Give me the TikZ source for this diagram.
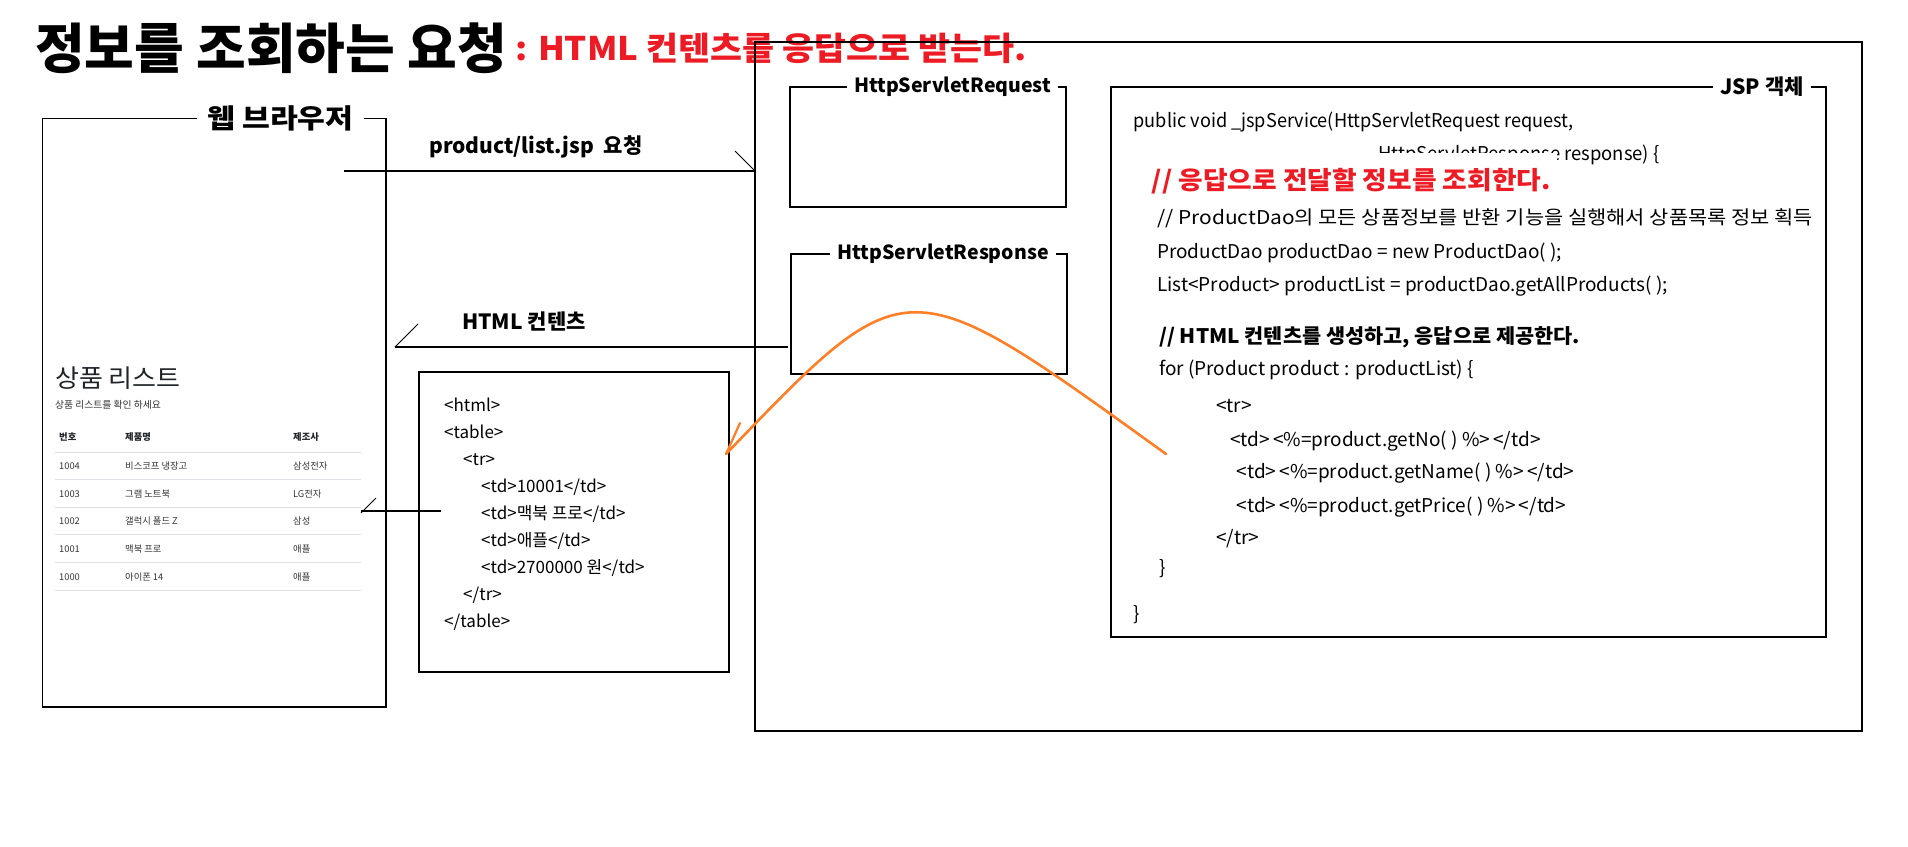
\documentclass[tikz,border=0pt]{standalone}
\usepackage{fontspec}
\usepackage{graphicx}
\setmainfont{Noto Sans CJK KR}
\definecolor{jred}{HTML}{ED1C24}
\definecolor{jorange}{HTML}{FF7F27}
\definecolor{tline}{HTML}{DEE2E6}
\definecolor{pgtext}{HTML}{212529}
\definecolor{pgsub}{HTML}{333333}
\newcommand{\fs}[1]{\fontsize{#1}{#1}\selectfont}
\newcommand{\sx}[2]{\scalebox{#1}[1]{#2}}
\tikzset{
  box/.style={draw, line width=1.3pt, inner sep=0pt, outer sep=0pt, anchor=north west},
  blabel/.style={fill=white, inner xsep=7pt, inner ysep=1pt, font=\bfseries\fs{19.5}},
  t/.style={inner sep=0pt, anchor=base west},
  code/.style={t, font=\fs{19}},
  html/.style={t, font=\fs{17}},
  cell/.style={t, font=\fs{9.3}, text=pgsub},
  hcell/.style={t, font=\bfseries\fs{9.3}, text=pgtext},
  conn/.style={line width=1.2pt},
  barb/.style={line width=0.8pt},
  curve/.style={draw=jorange, line width=2.6pt},
}
\begin{document}
\begin{tikzpicture}[x=1pt,y=-1pt]
\useasboundingbox[fill=white] (0,0) rectangle (1908,846);

% title
\node[t, font=\bfseries\fs{54}] (title) at (35,68.4) {정보를 조회하는 요청};
\node[t, font=\bfseries\fs{32.5}, text=jred] (subtitle) at (515,60) {\sx{1.07}{: HTML 컨텐츠를 응답으로 받는다.}};

% boxes
\node[box, minimum width=1107pt, minimum height=689pt] (outer) at (755,42) {};
\node[box, minimum width=343.5pt, minimum height=588.5pt] (browser) at (42.5,118.5) {};
\node[box, minimum width=276pt, minimum height=120pt] (req) at (790,87) {};
\node[box, minimum width=276pt, minimum height=120pt] (resp) at (791,254) {};
\node[box, minimum width=715pt, minimum height=550pt] (jsp) at (1111,87) {};
\node[box, minimum width=310pt, minimum height=300pt] (html) at (419,372) {};

% box labels
\node[blabel, font=\bfseries\fs{27}, inner xsep=10pt] (browserlbl) at (browser.north -| 280.5,0) {\sx{1.12}{웹 브라우저}};
\node[blabel] (reqlbl) at (req.north -| 952.5,0) {HttpServletRequest};
\node[blabel] (resplbl) at (resp.north -| 943,0) {HttpServletResponse};
\node[blabel, font=\bfseries\fs{21}] (jsplbl) at (jsp.north -| 1762,0) {JSP 객체};

% request / response connectors
\coordinate (reqS) at (344,171);
\draw[conn] (reqS) -- (reqS -| outer.west) coordinate (reqE);
\draw[barb] (reqE) -- ++(-20,-20);
\node[t, font=\bfseries\fs{21}] (reqtxt) at (429,153.5) {product/list.jsp\ \ 요청};

\coordinate (respE) at (395,347);
\draw[conn] ([xshift=-3pt]resp.west |- respE) -- (respE);
\draw[barb] (respE) -- ++(23,-23);
\node[t, font=\bfseries\fs{21}] (resptxt) at (462,329.5) {HTML 컨텐츠};

% browser page content
\node[t, font=\fs{25}, text=pgtext] (pgtitle) at (55,387) {\sx{1.04}{상품 리스트}};
\node[t, font=\fs{9.8}, text=pgsub] (pgsubt) at (55,408.5) {상품 리스트를 확인 하세요};
\node[hcell] (h1) at (59,440.5) {번호};
\node[hcell] (h2) at (125,440.5) {제품명};
\node[hcell] (h3) at (293,440.5) {제조사};
\foreach \k in {0,...,5} {
  \draw[tline, line width=1pt] (55,452+\k*27.6) -- (361,452+\k*27.6);
}
\foreach \no/\nm/\mk [count=\i from 0] in {1004/비스코프 냉장고/삼성전자, 1003/그램 노트북/LG전자, 1002/갤럭시 폴드 Z/삼성, 1001/맥북 프로/애플, 1000/아이폰 14/애플} {
  \node[cell] (r\i a) at (59,469.4+\i*27.75) {\no};
  \node[cell] (r\i b) at (125,469.4+\i*27.75) {\nm};
  \node[cell] (r\i c) at (293,469.4+\i*27.75) {\mk};
}

% table to html connector
\coordinate (tabS) at (361,511);
\coordinate (tabE) at (441,511);
\draw[conn] (tabS) -- (tabE);
\draw[barb] ([yshift=-2pt]tabS) -- ++(15,-15);

% html contents
\node[html] (hl1) at (444,411) {<html>};
\node[html] (hl2) at (444,438) {<table>};
\node[html] (hl3) at (463,465) {<tr>};
\node[html] (hl4) at (481,492) {<td>10001</td>};
\node[html] (hl5) at (481,519) {<td>맥북 프로</td>};
\node[html] (hl6) at (481,546) {<td>애플</td>};
\node[html] (hl7) at (481,573) {<td>2700000 원</td>};
\node[html] (hl8) at (463,600) {</tr>};
\node[html] (hl9) at (444,627) {</table>};

% jsp code
\node[code] (c1) at (1133.5,127.7) {\sx{0.955}{public void \_jspService(HttpServletRequest request,}};
\node[code] (c2) at (1378,160.7) {\sx{0.97}{HttpServletResponse response) \{}};
\node[t, font=\bfseries\fs{25}, text=jred, fill=white, inner xsep=6pt, inner ysep=0pt, text height=36pt, text depth=6pt] (c3) at (1145.5,189) {\sx{1.07}{// 응답으로 전달할 정보를 조회한다.}};
\node[code] (c4) at (1157,224) {\sx{1.1}{// ProductDao의 모든 상품정보를 반환 기능을 실행해서 상품목록 정보 획득}};
\node[code] (c5) at (1157,258.7) {ProductDao productDao = new ProductDao( );};
\node[code] (c6) at (1157,291.7) {List<Product> productList = productDao.getAllProducts( );};
\node[t, font=\bfseries\fs{20}] (c7) at (1159,343) {\sx{1.04}{// HTML 컨텐츠를 생성하고, 응답으로 제공한다.}};
\node[code] (c8) at (1159,375.7) {for (Product product : productList) \{};
\node[code] (c9) at (1216,412.7) {<tr>};
\node[code] (c10) at (1230,446.7) {<td>\,<\%=product.getNo( ) \%>\,</td>};
\node[code] (c11) at (1236.5,478.7) {<td>\,<\%=product.getName( ) \%>\,</td>};
\node[code] (c12) at (1236.5,512.7) {<td>\,<\%=product.getPrice( ) \%>\,</td>};
\node[code] (c13) at (1216,544.7) {</tr>};
\node[code] (c14) at (1159,574.7) {\}};
\node[code] (c15) at (1133,620.7) {\}};

% orange curve
\coordinate (oS) at (1166,454);
\coordinate (oE) at (726,454);
\draw[curve, line cap=round] (oS) .. controls (904,265) and (908,265) .. (oE);
\draw[curve, line width=2.2pt, line cap=round] (oE) -- ++(14,-31);
\end{tikzpicture}
\end{document}
